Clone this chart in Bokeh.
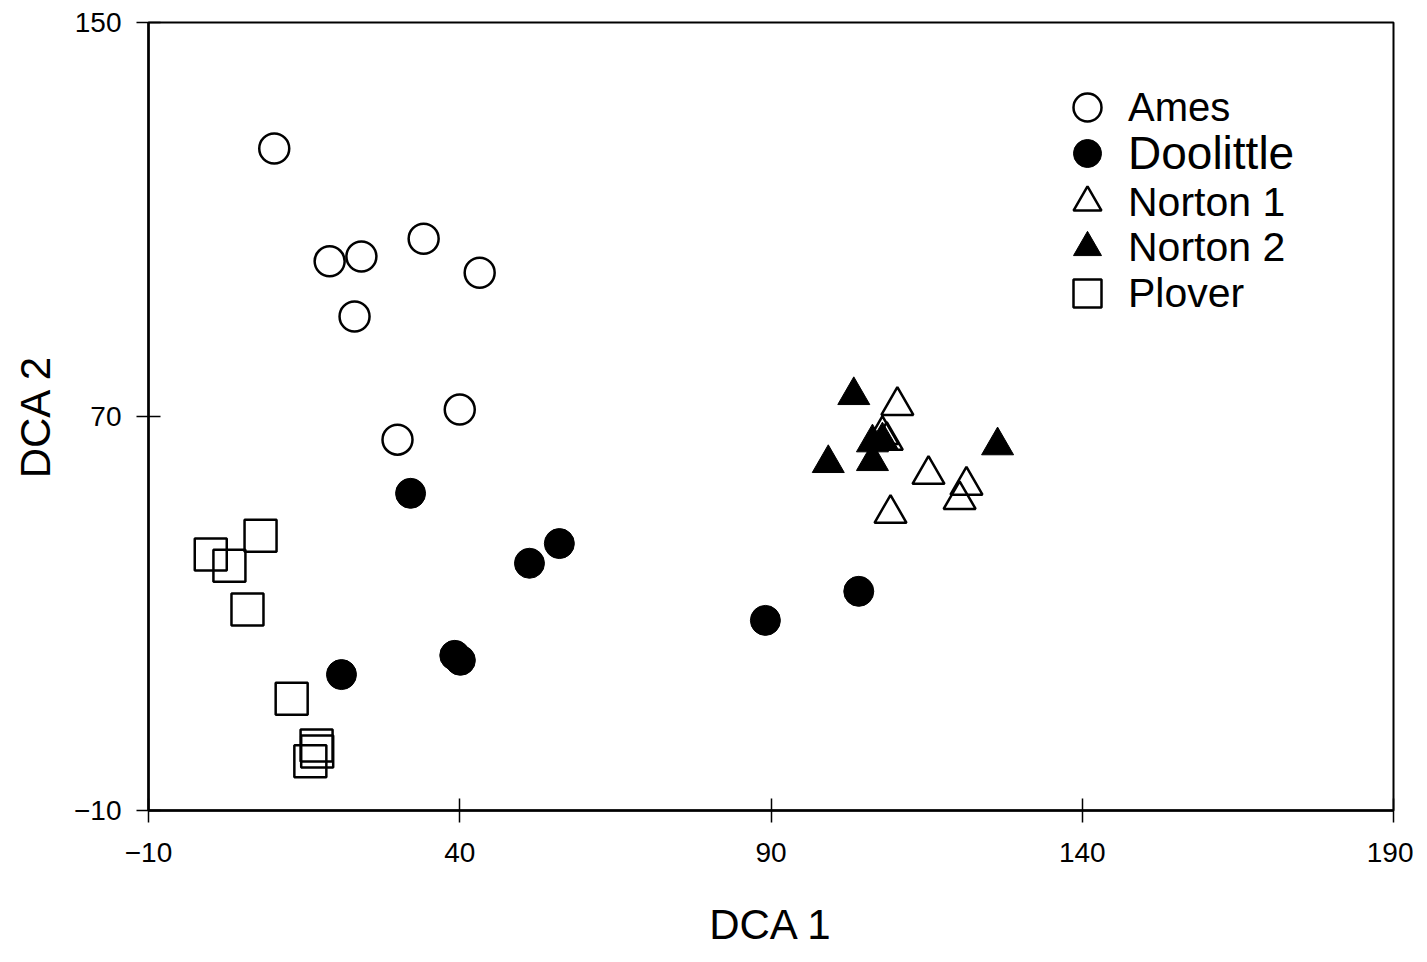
from bokeh.plotting import figure
from bokeh.models import FixedTicker, Legend, LegendItem, Range1d
from bokeh.embed import file_html
from bokeh.resources import INLINE

# ---- data ----
ames_x = [10.2, 19.1, 24.2, 34.2, 43.2, 23.1, 40.0, 30.0]
ames_y = [124.4, 101.5, 102.5, 106.1, 99.2, 90.3, 71.4, 65.3]

doolittle_x = [32.1, 51.2, 56.0, 39.2, 40.1, 21.0, 89.1, 104.1]
doolittle_y = [54.4, 40.2, 44.2, 21.5, 20.5, 17.6, 28.6, 34.5]

norton1_x = [110.3, 107.9, 108.6, 115.3, 121.4, 120.3, 109.2]
norton1_y = [72.2, 66.3, 65.1, 58.2, 56.0, 53.1, 50.3]

norton2_x = [103.3, 126.4, 99.2, 106.3, 107.9, 106.3]
norton2_y = [74.3, 64.1, 60.5, 64.7, 65.1, 60.9]

plover_x = [0.0, 3.0, 8.0, 5.9, 13.0, 17.0, 17.1, 16.0]
plover_y = [42.0, 39.7, 45.8, 30.8, 12.7, 3.2, 2.0, 0.0]

series_names = ["Ames", "Doolittle", "Norton 1", "Norton 2", "Plover"]
x_ticks = [-10, 40, 90, 140, 190]
y_ticks = [-10, 70, 150]
x_title = "DCA 1"
y_title = "DCA 2"

FONT = "Liberation Sans"

p = figure(
    frame_width=1245, frame_height=788,
    x_range=Range1d(-10, 190), y_range=Range1d(-10, 150),
    output_backend="svg", toolbar_location=None,
    min_border_left=148, min_border_top=22, min_border_right=20, min_border_bottom=120,
    background_fill_color="white", border_fill_color="white",
)
p.grid.visible = False
p.outline_line_color = "black"
p.outline_line_width = 2

for ax in (p.xaxis[0], p.yaxis[0]):
    ax.axis_line_width = 2.5
    ax.axis_line_color = "black"
    ax.major_tick_in = 12
    ax.major_tick_out = 12
    ax.major_tick_line_width = 1.5
    ax.minor_tick_line_color = None
    ax.major_label_text_font = FONT
    ax.major_label_text_font_size = "28px"
    ax.major_label_text_color = "black"
    ax.axis_label_text_font = FONT
    ax.axis_label_text_font_size = "42px"
    ax.axis_label_text_font_style = "normal"
    ax.axis_label_text_color = "black"

p.xaxis[0].ticker = FixedTicker(ticks=x_ticks)
p.yaxis[0].ticker = FixedTicker(ticks=y_ticks)
p.xaxis[0].major_label_overrides = {-10: "\u221210"}
p.yaxis[0].major_label_overrides = {-10: "\u221210"}
p.xaxis[0].major_label_standoff = 20
p.yaxis[0].major_label_standoff = 15
p.xaxis[0].axis_label = x_title
p.yaxis[0].axis_label = y_title
p.xaxis[0].axis_label_standoff = 36
p.yaxis[0].axis_label_standoff = 12

r_ames = p.scatter(ames_x, ames_y, marker="circle", size=30,
                   line_color="black", line_width=2.5, fill_alpha=0)
r_dool = p.scatter(doolittle_x, doolittle_y, marker="circle", size=30,
                   line_color="black", line_width=1, fill_color="black")
r_n1 = p.scatter(norton1_x, norton1_y, marker="triangle", size=32,
                 line_color="black", line_width=2.5, fill_alpha=0)
r_n2 = p.scatter(norton2_x, norton2_y, marker="triangle", size=32,
                 line_color="black", line_width=1, fill_color="black")
r_pl = p.scatter(plover_x, plover_y, marker="square", size=32,
                 line_color="black", line_width=2.5, fill_alpha=0)

renderers = [r_ames, r_dool, r_n1, r_n2, r_pl]
# one single-row legend per entry so that the row pitch matches the reference
legend_offsets = [668, 622, 573, 528, 482]
legend_font_sizes = ["40px", "46px", "41px", "41px", "41px"]
for name, r, vy, fs in zip(series_names, renderers, legend_offsets, legend_font_sizes):
    lg = Legend(
        items=[LegendItem(label=name, renderers=[r])],
        location=(904, vy),
        glyph_width=70, glyph_height=70, spacing=0, padding=0, margin=0,
        label_standoff=6,
        label_text_font=FONT, label_text_font_size=fs, label_text_color="black",
        border_line_alpha=0, background_fill_alpha=0,
    )
    p.add_layout(lg)

open("out.html", "w").write(file_html(p, INLINE))
